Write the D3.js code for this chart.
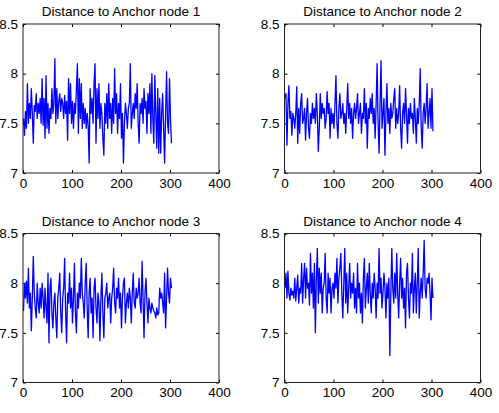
<!DOCTYPE html>
<html>
<head>
<meta charset="utf-8">
<script src="https://cdn.jsdelivr.net/npm/d3@7"></script>
<style>
  body { margin: 0; background: #fff; }
  svg { display: block; font-family: "Liberation Sans", Arial, sans-serif; }
  .tick text { font-size: 13.5px; fill: #000; }
  .domain { display: none; }
  .tick line { stroke: #000; }
</style>
</head>
<body>
<script>
// samples are taken every 2 steps, starting at 1
const sampleStart = 1, sampleStep = 2;

const titles = ["Distance to Anchor node 1", "Distance to Anchor node 2",
                "Distance to Anchor node 3", "Distance to Anchor node 4"];

const xTicks = [0, 100, 200, 300, 400];
const yTicks = [7, 7.5, 8, 8.5];

const node1 = [
  7.55, 7.38, 7.62, 7.45, 7.9, 7.5, 7.7, 7.55, 7.85, 7.6,
  7.3, 7.68, 7.62, 7.8, 7.55, 7.7, 7.6, 7.75, 7.5, 7.95,
  7.48, 7.75, 7.35, 7.98, 7.45, 7.7, 7.4, 7.65, 7.55, 7.85,
  7.6, 7.7, 8.15, 7.5, 7.85, 7.55, 7.72, 7.8, 7.62, 7.75,
  7.7, 7.55, 7.78, 7.6, 7.72, 7.33, 7.95, 7.6, 7.9, 7.5,
  7.72, 7.45, 7.7, 7.6, 7.85, 8.1, 7.4, 7.95, 7.55, 7.9,
  7.45, 7.7, 7.5, 7.65, 7.45, 7.6, 7.48, 7.1, 7.85, 7.6,
  7.75, 7.5, 7.9, 8.1, 7.3, 7.85, 7.55, 7.9, 7.45, 7.7,
  7.6, 7.35, 7.18, 7.7, 7.5, 7.8, 7.45, 7.9, 7.55, 7.7,
  7.4, 7.75, 7.5, 8.05, 7.6, 7.8, 7.4, 7.7, 7.55, 7.9,
  7.35, 7.6, 7.1, 7.5, 7.7, 7.6, 7.45, 7.65, 7.7, 8.1,
  7.45, 7.6, 7.7, 7.55, 7.8, 7.65, 7.9, 7.5, 7.3, 7.7,
  7.6, 7.75, 7.5, 7.85, 7.65, 7.72, 7.4, 7.8, 7.6, 7.9,
  7.4, 8.0, 7.55, 7.3, 7.98, 7.6, 7.25, 7.85, 7.2, 7.75,
  7.2, 7.6, 7.8, 7.45, 7.1, 7.6, 8.02, 7.5, 7.4, 7.95,
  7.55, 7.3
];

const node2 = [
  7.75, 7.8, 7.28, 7.7, 7.88, 7.55, 7.62, 7.38, 7.6, 7.55,
  7.45, 7.6, 7.87, 7.3, 7.65, 7.4, 7.7, 7.8, 7.5, 7.55,
  7.65, 7.33, 7.6, 7.75, 7.45, 7.35, 7.6, 7.5, 7.7, 7.55,
  7.65, 7.5, 7.8, 7.6, 7.22, 7.45, 7.8, 7.55, 7.7, 7.6,
  7.65, 7.45, 7.55, 7.82, 7.6, 7.7, 7.35, 7.65, 7.5, 7.6,
  7.45, 7.7, 7.98, 7.5, 7.35, 7.65, 7.8, 7.55, 7.6, 7.7,
  7.5, 7.6, 7.4, 7.65, 7.9, 7.55, 7.7, 7.5, 7.65, 7.35,
  7.6, 7.7, 7.55, 7.65, 7.8, 7.5, 7.6, 7.7, 7.4, 7.6,
  7.55, 7.85, 7.5, 7.7, 7.25, 7.65, 7.55, 7.75, 7.6, 7.8,
  7.5, 7.65, 7.35, 7.7, 8.1, 7.5, 7.2, 7.7, 8.13, 7.45,
  7.6, 7.75, 7.18, 7.6, 7.9, 7.5, 7.65, 7.4, 7.7, 7.55,
  7.6, 7.75, 7.85, 7.45, 7.65, 7.5, 7.6, 7.88, 7.45, 7.25,
  7.6, 7.7, 7.5, 7.85, 7.6, 7.3, 7.65, 7.5, 7.7, 7.55,
  7.6, 7.4, 7.75, 7.55, 7.3, 7.65, 7.5, 7.7, 8.05, 7.45,
  7.25, 7.6, 7.7, 7.5, 7.65, 7.9, 7.45, 7.6, 7.75, 7.45,
  7.85, 7.42
];

const node3 = [
  7.72, 8.0, 7.85, 8.02, 7.8, 8.15, 7.75, 7.9, 7.52, 7.85,
  8.27, 7.9, 7.75, 7.65, 8.0, 7.8, 7.7, 7.95, 7.75, 8.0,
  7.85, 7.65, 7.95, 7.75, 7.6, 8.1, 7.4, 7.95, 8.05, 7.7,
  7.55, 7.8, 7.9, 7.65, 7.45, 7.85, 7.95, 8.1, 7.7, 7.5,
  7.85, 7.95, 8.25, 7.7, 7.4, 7.9, 7.8, 8.1, 7.75, 7.95,
  7.6, 7.85, 8.2, 7.7, 7.5, 7.9, 7.75, 8.0, 7.85, 8.25,
  7.9, 7.8, 7.65, 8.0, 8.2, 7.75, 7.45, 7.9, 8.05, 7.7,
  7.85, 7.45, 7.95, 8.05, 7.75, 7.6, 7.9, 7.8, 7.42, 7.85,
  8.1, 7.7, 7.45, 7.85, 7.9, 8.0, 7.75, 7.85, 7.9, 7.6,
  7.85, 7.95, 8.15, 7.8, 7.7, 7.95, 7.85, 8.05, 7.75, 7.9,
  7.55, 7.85, 8.0, 8.05, 7.6, 7.8, 7.9, 7.75, 7.95, 7.85,
  7.6, 7.9, 8.1, 7.8, 7.75, 7.95, 7.85, 7.9, 8.05, 7.8,
  7.7, 8.22, 7.85, 7.45, 7.9, 8.05, 7.8, 7.6, 7.85, 7.75,
  7.7, 7.8, 7.75, 7.72, 7.7, 7.65, 7.75, 7.68, 7.7, 7.95,
  7.85, 7.9, 7.8, 7.7, 8.1, 7.55, 7.85, 8.15, 7.9, 7.8,
  8.05, 7.95
];

const node4 = [
  7.95, 8.1, 7.85, 8.12, 7.9, 7.83, 7.95, 7.88, 7.92, 7.85,
  8.05, 7.82, 7.95, 8.08, 7.8, 7.95, 7.9, 8.2, 7.8, 8.05,
  8.2, 7.85, 8.15, 7.95, 8.0, 7.78, 8.3, 7.9, 8.1, 7.75,
  8.2, 7.5, 8.05, 8.35, 7.8, 8.15, 7.9, 8.1, 7.7, 7.95,
  8.0, 8.3, 7.85, 7.7, 8.1, 7.9, 8.05, 7.7, 7.95, 8.0,
  7.85, 8.1, 7.95, 8.25, 7.8, 8.05, 8.15, 8.3, 7.9, 7.65,
  8.0, 8.35, 7.8, 8.1, 7.7, 7.95, 8.2, 7.85, 8.0, 7.9,
  8.1, 7.75, 7.95, 7.7, 8.2, 7.85, 8.0, 7.7, 7.9, 7.6,
  8.05, 8.25, 7.75, 7.95, 8.1, 7.8, 8.2, 7.9, 7.7, 8.0,
  7.85, 8.1, 7.95, 7.65, 8.0, 7.85, 8.35, 7.9, 8.05, 7.75,
  7.9, 8.1, 7.95, 7.65, 8.0, 7.85, 8.05, 7.27, 7.9, 8.35,
  7.95, 7.8, 8.1, 7.85, 8.3, 7.9, 7.65, 8.0, 8.25, 7.85,
  8.05, 7.75, 7.95, 7.55, 8.1, 8.2, 7.85, 7.65, 8.0, 7.9,
  8.3, 7.7, 7.95, 8.1, 7.7, 8.0, 8.35, 7.65, 7.9, 8.05,
  7.85, 8.1, 8.43, 7.95, 7.85, 8.05, 8.0, 8.1, 7.9, 7.63,
  8.05, 7.85
];

const series = [node1, node2, node3, node4];

// panel boxes (left, top) in page pixels
const pw = 196, ph = 149;
const panels = [
  {left: 23, top: 24},
  {left: 284.5, top: 24},
  {left: 23, top: 233.5},
  {left: 284.5, top: 233.5}
];

const svg = d3.select("body")
    .append("svg")
    .attr("width", 499)
    .attr("height", 413);

const x = d3.scaleLinear().domain([0, 400]).range([0, pw]);
const y = d3.scaleLinear().domain([7, 8.5]).range([ph, 0]);

const line = d3.line()
    .x((d, i) => x(sampleStart + i * sampleStep))
    .y(d => y(d));

panels.forEach(function(p, k) {
    const g = svg.append("g")
        .attr("transform", `translate(${p.left},${p.top})`);

    // axes, MATLAB style: ticks pointing inwards on all four sides
    g.append("g")
        .attr("transform", `translate(0,${ph})`)
        .call(d3.axisBottom(x).tickValues(xTicks).tickSize(-3).tickPadding(5));
    g.append("g")
        .call(d3.axisTop(x).tickValues(xTicks).tickSize(-3).tickFormat(""));
    g.append("g")
        .call(d3.axisLeft(y).tickValues(yTicks).tickSize(-3).tickPadding(5)
            .tickFormat(d => String(d)));
    g.append("g")
        .attr("transform", `translate(${pw},0)`)
        .call(d3.axisRight(y).tickValues(yTicks).tickSize(-3).tickFormat(""));

    g.append("path")
        .datum(series[k])
        .attr("fill", "none")
        .attr("stroke", "#0000ff")
        .attr("stroke-width", 1.3)
        .attr("stroke-linejoin", "round")
        .attr("d", line);

    g.append("rect")
        .attr("width", pw)
        .attr("height", ph)
        .attr("fill", "none")
        .attr("stroke", "#222")
        .attr("stroke-width", 1);

    g.append("text")
        .attr("x", pw / 2)
        .attr("y", -8)
        .attr("text-anchor", "middle")
        .style("font-size", "13.5px")
        .text(titles[k]);
});
</script>
</body>
</html>
